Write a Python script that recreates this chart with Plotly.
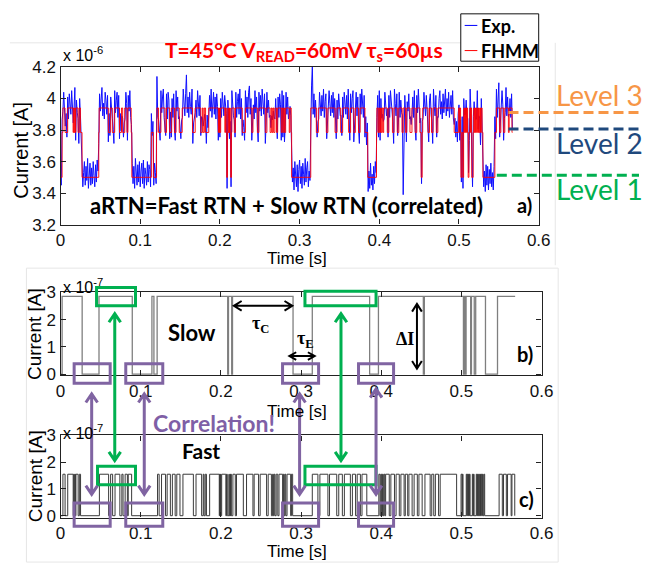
import bisect
import math
import plotly.graph_objects as go

W, H = 651, 574

# ---------------- data ----------------
# Slow trap (panel b): switching instants [s] and state held from each instant on
slow_t = [0.0, 0.002, 0.027, 0.048, 0.0895, 0.114, 0.1165, 0.1205,
          0.2085, 0.2095, 0.2135, 0.2145, 0.290, 0.314, 0.3855, 0.3965,
          0.4525, 0.4538, 0.5025, 0.5035, 0.5048, 0.5058, 0.5115, 0.5125,
          0.5160, 0.5178, 0.530, 0.545, 0.567]
slow_s = [0, 1, 0, 1, 0, 1, 0, 1,
          0, 1, 0, 1, 0, 1, 0, 1,
          0, 1, 0, 1, 0, 1, 0, 1,
          0, 1, 0, 1, 1]

# Fast trap (panel c): start / end of every high interval [s]
fast_on = [0.0030, 0.0090, 0.0165, 0.0180, 0.0192, 0.0235,
           0.0485, 0.0625, 0.0680, 0.0765, 0.0806, 0.0845,
           0.1210, 0.1260, 0.1330, 0.1395, 0.1450, 0.1527, 0.1690, 0.1780,
           0.1805, 0.1860, 0.1985, 0.1995, 0.2010, 0.2070,
           0.2100, 0.2115, 0.2125,
           0.2150, 0.2195, 0.2320, 0.2415, 0.2490, 0.2590, 0.2645, 0.2665,
           0.2690, 0.2725, 0.2780, 0.2800, 0.2825, 0.2880,
           0.3140, 0.3235, 0.3355, 0.3470, 0.3540, 0.3640, 0.3700, 0.3760,
           0.3970, 0.3995, 0.4015, 0.4035, 0.4055, 0.4120, 0.4185, 0.4245,
           0.4300, 0.4345, 0.4410, 0.4470,
           0.4545, 0.4630, 0.4675, 0.4735, 0.4995, 0.5012, 0.5060, 0.5074,
           0.5088, 0.5100, 0.5136, 0.5150, 0.5185, 0.5200, 0.5215, 0.5230,
           0.5245, 0.5262, 0.5280,
           0.5470, 0.5525, 0.5575, 0.5630]
fast_off = [0.0057, 0.0158, 0.0172, 0.0186, 0.0220, 0.0250,
            0.0600, 0.0650, 0.0740, 0.0780, 0.0834, 0.0887,
            0.1230, 0.1310, 0.1370, 0.1430, 0.1490, 0.1657, 0.1760, 0.1790,
            0.1820, 0.1980, 0.1990, 0.2000, 0.2062, 0.2080,
            0.2105, 0.2120, 0.2130,
            0.2180, 0.2280, 0.2400, 0.2470, 0.2570, 0.2630, 0.2655, 0.2675,
            0.2710, 0.2770, 0.2790, 0.2810, 0.2870, 0.2895,
            0.3210, 0.3335, 0.3445, 0.3515, 0.3615, 0.3680, 0.3740, 0.3820,
            0.3985, 0.4005, 0.4025, 0.4045, 0.4100, 0.4165, 0.4225, 0.4285,
            0.4330, 0.4385, 0.4450, 0.4510,
            0.4610, 0.4655, 0.4715, 0.4940, 0.5008, 0.5020, 0.5068, 0.5082,
            0.5096, 0.5108, 0.5144, 0.5158, 0.5193, 0.5208, 0.5223, 0.5238,
            0.5253, 0.5270, 0.5290,
            0.5510, 0.5560, 0.5620, 0.5665]

base_level = 3.50     # [1e-6 A]  both traps in low-current state
slow_step = 2.85      # [1e-7 A]
fast_step = 1.55      # [1e-7 A]
level_lines = [3.513, 3.807, 3.912]   # Level 1, 2, 3 [1e-6 A]
level_names = ["Level 1", "Level 2", "Level 3"]
level_colors = ["#00B050", "#1F497D", "#F79646"]

# Measured current: deviation about the FHMM level [1e-6 A], one sample every 1 ms
exp_dt = 0.001
exp_fluct = [
    0.03, -0.05, 0.08, -0.02, 0.10, -0.06, 0.04, 0.12, -0.03, 0.07, -0.07, 0.09, 0.02, -0.04, 0.11, -0.06, 0.06, 0.00, 0.13, -0.05,
    0.05, -0.03, 0.09, -0.07, 0.06, 0.11, -0.04, 0.08, -0.06, 0.03, 0.10, -0.05, 0.07, -0.02, 0.12, -0.07, 0.04, 0.09, -0.05, 0.06,
    -0.04, 0.10, 0.01, -0.06, 0.08, -0.03, 0.11, 0.04, -0.07, 0.09, -0.02, 0.06, 0.13, -0.05, 0.03, -0.07, 0.10, 0.05, -0.04, 0.08,
    -0.06, 0.12, -0.02, 0.07, -0.05, 0.09, 0.02, -0.07, 0.11, -0.03, 0.05, 0.10, -0.06, 0.08, -0.04, 0.12, 0.01, -0.05, 0.09, -0.03,
    0.06, -0.07, 0.10, 0.03, -0.05, 0.08, -0.02, 0.11, -0.06, 0.05, 0.09, -0.04, 0.07, -0.07, 0.12, 0.02, -0.05, 0.08, -0.03, 0.10,
    -0.06, 0.04, 0.09, -0.04, 0.11, -0.07, 0.06, 0.02, -0.05, 0.10, -0.03, 0.08, 0.05, -0.06, 0.12, -0.02, 0.07, -0.05, 0.09, 0.03,
    -0.04, 0.20, -0.06, 0.08, 0.01, -0.05, 0.11, -0.03, 0.07, 0.12, -0.06, 0.04, -0.02, 0.09, -0.07, 0.10, 0.05, -0.04, 0.13, -0.03,
    0.06, -0.06, 0.09, 0.02, -0.05, 0.11, -0.02, 0.07, -0.07, 0.10, 0.04, -0.04, 0.08, -0.06, 0.12, 0.03, -0.05, 0.09, 0.21, -0.03,
    0.07, -0.06, 0.10, 0.01, -0.04, 0.12, -0.07, 0.06, 0.09, -0.03, 0.05, -0.06, 0.11, 0.02, -0.05, 0.08, -0.02, 0.10, -0.06, 0.04,
    0.09, -0.04, 0.07, -0.07, 0.11, 0.03, -0.05, 0.08, -0.02, 0.12, -0.06, 0.05, 0.10, -0.04, 0.07, -0.07, 0.09, 0.01, -0.05, 0.11,
    -0.03, 0.06, -0.06, 0.10, 0.04, -0.05, 0.08, -0.02, 0.12, -0.07, 0.05, 0.09, -0.04, 0.07, -0.06, 0.11, 0.02, -0.05, 0.08, -0.03,
    0.10, -0.06, 0.04, 0.09, -0.04, 0.12, -0.07, 0.06, -0.02, 0.08, 0.03, -0.05, 0.11, -0.03, 0.07, -0.06, 0.10, 0.14, -0.04, 0.06,
    -0.05, 0.09, 0.02, -0.07, 0.11, -0.03, 0.07, 0.04, -0.06, 0.10, -0.02, 0.08, -0.05, 0.12, 0.01, -0.04, 0.09, -0.07, 0.06, 0.10,
    -0.03, 0.05, -0.06, 0.11, 0.03, -0.05, 0.08, -0.02, 0.10, -0.07, 0.06, 0.12, -0.04, 0.07, -0.06, 0.09, 0.02, -0.05, 0.11, -0.03,
    0.08, -0.06, 0.04, 0.10, -0.04, 0.07, -0.07, 0.12, 0.01, -0.05, 0.09, -0.03, 0.06, -0.08, 0.10, 0.03, -0.06, 0.08, -0.09, 0.05,
    0.11, -0.04, 0.07, -0.07, 0.09, 0.02, -0.05, 0.12, -0.03, 0.06, 0.10, -0.06, 0.04, -0.02, 0.08, 0.14, 0.27, -0.04, 0.09, -0.06,
    0.05, 0.11, -0.03, 0.07, -0.07, 0.10, 0.02, -0.05, 0.08, -0.02, 0.12, -0.06, 0.04, 0.09, -0.04, 0.07, -0.07, 0.11, 0.03, -0.05,
    0.08, -0.03, 0.10, -0.06, 0.06, 0.12, -0.04, 0.05, -0.07, 0.09, 0.01, -0.05, 0.11, -0.02, 0.07, -0.06, 0.10, 0.04, -0.04, 0.08,
    -0.07, 0.12, 0.03, -0.05, 0.09, -0.03, 0.06, 0.11, -0.06, 0.04, -0.02, 0.10, -0.05, 0.07, 0.02, -0.07, 0.09, -0.04, 0.12, 0.05,
    -0.06, 0.08, -0.03, 0.10, -0.08, 0.06, -0.09, 0.04, -0.07, 0.09, -0.05, 0.02, -0.08, 0.07, -0.04, 0.10, 0.03, -0.06, 0.08, -0.03,
    0.11, -0.05, 0.06, 0.09, -0.04, 0.07, -0.07, 0.10, 0.02, -0.05, 0.15, -0.03, 0.08, -0.06, 0.11, 0.04, -0.04, 0.07, -0.07, 0.12,
    0.03, -0.05, 0.09, -0.02, 0.06, 0.10, -0.06, 0.05, -0.03, 0.11, -0.55, -0.04, 0.08, 0.12, -0.06, 0.04, -0.02, 0.09, -0.07, 0.10,
    0.05, -0.04, 0.07, -0.06, 0.11, 0.02, -0.05, 0.08, -0.03, 0.12, -0.07, 0.06, 0.09, -0.04, 0.07, -0.06, 0.10, 0.03, -0.05, 0.08,
    -0.02, 0.11, -0.06, 0.05, 0.09, -0.04, 0.07, -0.07, 0.12, 0.01, -0.05, 0.08, -0.03, 0.10, -0.06, 0.06, 0.11, -0.04, 0.04, -0.07,
    0.09, -0.03, 0.07, 0.12, -0.05, 0.06, -0.02, 0.10, -0.06, 0.04, 0.08, -0.04, 0.11, -0.07, 0.05, 0.09, -0.03, 0.07, -0.06, 0.12,
    0.02, -0.05, 0.08, -0.03, 0.10, -0.07, 0.06, 0.11, -0.04, 0.05, -0.06, 0.09, 0.03, -0.05, 0.12, -0.02, 0.07, -0.06, 0.10, 0.04,
    -0.04, 0.08, -0.07, 0.11, 0.02, -0.05, 0.09, -0.08, 0.06, -0.03, 0.10, -0.06, 0.04, -0.09, 0.08, -0.05, 0.07, -0.08, 0.05, -0.04,
    0.09, -0.06, 0.03, -0.08, 0.07, 0.10, -0.04, 0.12, -0.06, 0.05, 0.16, -0.03, 0.08, -0.06, 0.11, 0.02, -0.05, 0.09, -0.03, 0.13,
    -0.05, 0.07, 0.10, -0.04, 0.06, -0.06, 0.09, 0.02,
]

x_ticks = [0, 0.1, 0.2, 0.3, 0.4, 0.5, 0.6]
x_ticklabels = ["0", "0.1", "0.2", "0.3", "0.4", "0.5", "0.6"]
ya_ticks = [3.2, 3.4, 3.6, 3.8, 4.0, 4.2]
ya_ticklabels = ["3.2", "3.4", "3.6", "3.8", "4", "4.2"]
ybc_ticks = [0, 1, 2, 3]
ybc_ticklabels = ["0", "1", "2", "3"]


# ---------------- helpers ----------------
def slow_at(t):
    k = bisect.bisect_right(slow_t, t) - 1
    return slow_s[max(k, 0)]


def fast_at(t):
    k = bisect.bisect_right(fast_on, t) - 1
    return 1 if (k >= 0 and t < fast_off[k]) else 0


def fhmm_at(t):
    s = slow_at(t)
    f = fast_at(t)
    return base_level + (slow_step * s + fast_step * f * s) / 10.0


def fx(xp):
    return xp / W


def fy(yp):
    return 1 - yp / H


def pt(xp, yp):
    return f"{fx(xp):.5f},{fy(yp):.5f}"


# ---------------- traces ----------------
event_t = sorted(set(slow_t + fast_on + fast_off))
fhmm_y = [fhmm_at(t) for t in event_t]

exp_t = [round(i * exp_dt, 4) for i in range(len(exp_fluct))]
exp_y = [fhmm_at(t) + d for t, d in zip(exp_t, exp_fluct)]

slow_y = [slow_step * s for s in slow_s]

fast_x = [0.0]
fast_y = [0.0]
for a, b in zip(fast_on, fast_off):
    fast_x += [a, b]
    fast_y += [fast_step, 0.0]

fig = go.Figure()
fig.add_trace(go.Scatter(x=exp_t, y=exp_y, mode="lines", xaxis="x", yaxis="y",
                         line=dict(color="#1010ff", width=1), showlegend=False))
fig.add_trace(go.Scatter(x=event_t, y=fhmm_y, mode="lines", xaxis="x", yaxis="y",
                         line=dict(color="rgba(255,0,0,0.9)", width=1, shape="hv"), showlegend=False))
fig.add_trace(go.Scatter(x=slow_t, y=slow_y, mode="lines", xaxis="x2", yaxis="y2",
                         line=dict(color="#7f7f7f", width=1.3, shape="hv"), showlegend=False))
fig.add_trace(go.Scatter(x=fast_x, y=fast_y, mode="lines", xaxis="x3", yaxis="y3",
                         line=dict(color="#3a3a3a", width=1, shape="hv"), showlegend=False))

tick_font = dict(family="Liberation Sans, Arial", size=17, color="#111")
axis_common = dict(showline=True, linecolor="#222", linewidth=1.3, mirror="ticks",
                   ticks="inside", ticklen=5, tickwidth=1, tickcolor="#222",
                   showgrid=False, zeroline=False, tickfont=tick_font)

fig.update_layout(
    width=W, height=H, autosize=False,
    margin=dict(l=0, r=0, t=0, b=0),
    paper_bgcolor="white", plot_bgcolor="white",
    xaxis=dict(axis_common, domain=[fx(57), fx(548)], range=[0, 0.6], anchor="y",
               tickvals=x_ticks, ticktext=x_ticklabels),
    yaxis=dict(axis_common, domain=[fy(223), fy(60)], range=[3.2, 4.2], anchor="x",
               tickvals=ya_ticks, ticktext=ya_ticklabels),
    xaxis2=dict(axis_common, domain=[fx(57), fx(551)], range=[0, 0.6], anchor="y2",
                tickvals=x_ticks, ticktext=x_ticklabels),
    yaxis2=dict(axis_common, domain=[fy(379), fy(293)], range=[-0.05, 3.0], anchor="x2",
                tickvals=ybc_ticks, ticktext=ybc_ticklabels),
    xaxis3=dict(axis_common, domain=[fx(57), fx(551)], range=[0, 0.6], anchor="y3",
                tickvals=x_ticks, ticktext=x_ticklabels),
    yaxis3=dict(axis_common, domain=[fy(526), fy(441)], range=[-0.07, 3.0], anchor="x3",
                tickvals=ybc_ticks, ticktext=ybc_ticklabels),
)

shapes = []
annotations = []


def text(xp, yp, s, size, color="#000", family="Lato", xanchor="center", angle=0):
    annotations.append(dict(xref="paper", yref="paper", x=fx(xp), y=fy(yp), text=s,
                            showarrow=False, xanchor=xanchor, yanchor="middle",
                            textangle=angle,
                            font=dict(family=family, size=size, color=color)))


def rect(x0, y0, x1, y1, color, width):
    shapes.append(dict(type="rect", xref="paper", yref="paper",
                       x0=fx(x0), x1=fx(x1), y0=fy(y1), y1=fy(y0),
                       line=dict(color=color, width=width)))


def seg(x0, y0, x1, y1, color, width):
    shapes.append(dict(type="line", xref="paper", yref="paper",
                       x0=fx(x0), x1=fx(x1), y0=fy(y0), y1=fy(y1),
                       line=dict(color=color, width=width)))


def double_arrow(x0, y0, x1, y1, color, width, head=9, spread=6):
    dx, dy = x1 - x0, y1 - y0
    L = math.hypot(dx, dy)
    ux, uy = dx / L, dy / L
    nx, ny = -uy, ux
    path = f"M {pt(x0, y0)} L {pt(x1, y1)}"
    for ex, ey, sg in ((x1, y1, 1), (x0, y0, -1)):
        bx, by = ex - sg * head * ux, ey - sg * head * uy
        path += (f" M {pt(bx + spread * nx, by + spread * ny)} L {pt(ex, ey)}"
                 f" L {pt(bx - spread * nx, by - spread * ny)}")
    shapes.append(dict(type="path", xref="paper", yref="paper", path=path,
                       line=dict(color=color, width=width)))


# faint panel frames
frame = "#e6e6e6"
seg(5, 35, 468, 35, frame, 1)
seg(565, 35, 565, 265, frame, 1)
seg(22, 268, 568, 268, frame, 1)
seg(22, 268, 22, 572, frame, 1)
seg(568, 268, 568, 572, frame, 1)
seg(22, 572, 568, 572, frame, 1)

# ---- panel a ----
text(307, 43, "<b>T=45°C V<sub>READ</sub>=60mV τ<sub>s</sub>=60µs</b>", 21, color="#ff0000")
rect(468, 5, 548, 54, "#111", 1)
seg(472, 17, 485, 17, "#0000ff", 1)
seg(472, 43, 485, 43, "#ff0000", 1)
text(487, 18, "<b>Exp.</b>", 18, xanchor="left")
text(487, 43, "<b>FHMM</b>", 18, xanchor="left")
text(58, 47, "x 10<sup>-6</sup>", 16, family="Liberation Sans, Arial", xanchor="left")
text(17, 146, "Current [A]", 20, family="Liberation Sans, Arial", angle=-90)
text(300, 258, "Time [s]", 17, family="Liberation Sans, Arial")
text(289, 203, "<b>aRTN=Fast RTN + Slow RTN (correlated)</b>", 22)
text(533, 203, "<b>a)</b>", 20)

level_x0 = [505, 517, 517]
level_label_y = [186, 139, 89]
for val, name, col, x0, ly in zip(level_lines, level_names, level_colors, level_x0, level_label_y):
    shapes.append(dict(type="line", xref="paper", yref="y", x0=fx(x0), x1=1.0,
                       y0=val, y1=val, line=dict(color=col, width=3, dash="10px,5px")))
    text(564, ly, name, 28, color=col, xanchor="left")

# ---- panel b ----
text(58, 286, "x 10<sup>-7</sup>", 16, family="Liberation Sans, Arial", xanchor="left")
text(31, 336, "Current [A]", 19, family="Liberation Sans, Arial", angle=-90)
text(300, 416, "Time [s]", 17, family="Liberation Sans, Arial")
text(192, 335, "<b>Slow</b>", 22)
text(534, 357, "<b>b)</b>", 20)
double_arrow(235, 307, 295, 307, "#000", 2, head=8, spread=5)
double_arrow(292, 359, 318, 359, "#000", 2, head=7, spread=4)
double_arrow(423, 305, 423, 372, "#000", 2, head=8, spread=5)
text(262, 326, "<b>τ<sub>C</sub></b>", 18, family="Liberation Serif, serif")
text(309, 342, "<b>τ<sub>E</sub></b>", 18, family="Liberation Serif, serif")
text(411, 341, "<b>ΔI</b>", 18, family="Liberation Serif, serif")

# ---- panel c ----
text(58, 437, "x 10<sup>-7</sup>", 16, family="Liberation Sans, Arial", xanchor="left")
text(31, 483, "Current [A]", 19, family="Liberation Sans, Arial", angle=-90)
text(300, 561, "Time [s]", 17, family="Liberation Sans, Arial")
text(201, 457, "<b>Fast</b>", 21)
text(535, 507, "<b>c)</b>", 20)
text(215, 428, "<b>Correlation!</b>", 23, color="#7F5FA6")

# correlation markers
purple = "#8064A2"
green = "#00B050"
for x0, x1 in ((71, 108), (124, 162), (285, 322), (363, 399)):
    rect(x0, 367, x1, 387, purple, 3)
    rect(x0, 511, x1, 535, purple, 3)
rect(94, 288, 134, 307, green, 3)
rect(308, 292, 381, 307, green, 3)
rect(95, 473, 134, 492, green, 3)
rect(308, 473, 381, 492, green, 3)
for xa, ytop in ((89, 398), (143, 398), (302.5, 398), (381, 393)):
    double_arrow(xa, ytop, xa, 502, purple, 3)
for xa in (112.7, 345):
    double_arrow(xa, 315, xa, 467, green, 3)

fig.update_layout(shapes=shapes, annotations=annotations)
fig.write_html("out.html")
